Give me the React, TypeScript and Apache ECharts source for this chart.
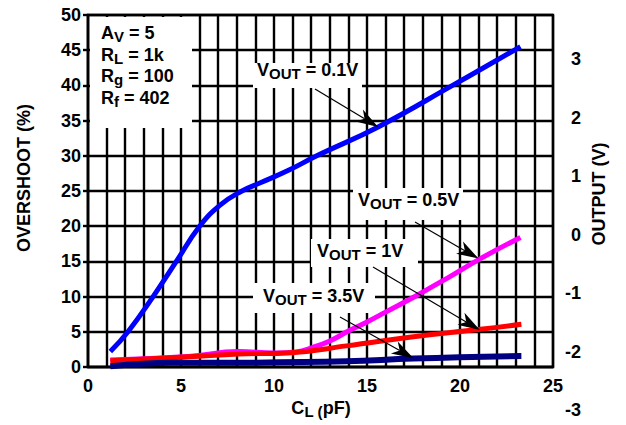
import React, { useEffect, useRef } from "react";
import * as echarts from "echarts";

// ---- data ----
const xMin = 0;
const xMax = 25;
const xInterval = 5;
const yMin = 0;
const yMax = 50;
const yInterval = 5;
const rightMin = -3;
const rightMax = 3;
const rightInterval = 1;

const vout01: [number, number][] = [
  [1.2, 2.2], [2.15, 5], [3.5, 10], [4.75, 15], [6.0, 20], [7.1, 23.0],
  [8.2, 24.9], [9.3, 26.2], [10.75, 27.9], [12.3, 30], [15.6, 34.1], [19.6, 40], [23.25, 45.5],
];
const vout05: [number, number][] = [
  [1.2, 1.0], [5.4, 1.5], [8.1, 2.2], [10.0, 2.0], [11.2, 2.15], [12.1, 2.8],
  [13.0, 3.7], [14.0, 5.1], [15.0, 6.4], [16.0, 7.8], [17.7, 10.2], [19.3, 12.6],
  [21.1, 15.4], [23.25, 18.4],
];
const vout1: [number, number][] = [
  [1.2, 0.9], [5.4, 1.45], [8.1, 1.85], [10.75, 2.0], [13.9, 3.0],
  [17.5, 4.3], [21.1, 5.35], [23.3, 6.06],
];
const vout35: [number, number][] = [
  [1.2, 0.1], [4.5, 0.6], [9.0, 0.62], [13.9, 0.8], [17.5, 1.2], [23.3, 1.56],
];

const seriesNames = ["0.1V", "0.5V", "1V", "3.5V"];
const seriesColors = ["#0000FF", "#FF00FF", "#FF0000", "#000080"];

const legendLines: [string, string, string][] = [
  ["A", "V", " = 5"],
  ["R", "L", " = 1k"],
  ["R", "g", " = 100"],
  ["R", "f", " = 402"],
];

// annotation labels: box (px), text position (px), arrow start (px), arrow tip (data)
const annotations = [
  { label: "0.1V", box: [253, 63, 109, 25], text: [257, 61], from: [315, 89], tip: [15.6, 34.1] },
  { label: "0.5V", box: [353, 188, 110, 32], text: [358, 191], from: [415, 222], tip: [21.0, 15.4] },
  { label: "1V", box: [311, 239, 107, 28], text: [317, 242], from: [373, 267], tip: [21.07, 5.26] },
  { label: "3.5V", box: [253, 283, 122, 30], text: [263, 287], from: [340, 317], tip: [17.5, 1.24] },
];

const FONT = "Liberation Sans, Arial, sans-serif";

export default function App() {
  const ref = useRef<HTMLDivElement>(null);

  useEffect(() => {
    if (!ref.current) return;
    const chart = echarts.init(ref.current, null, { renderer: "svg" });
    const gridLine = { color: "#000", width: 2.4 };
    const labelStyle = { color: "#000", fontSize: 18, fontWeight: "bold" as const, fontFamily: FONT };

    const seriesData = [vout01, vout05, vout1, vout35];

    chart.setOption({
      animation: false,
      backgroundColor: "#fff",
      grid: [
        { left: 88, right: 73, top: 15, bottom: 58, show: true, borderColor: "#000", borderWidth: 2.4, backgroundColor: "transparent" },
        { left: 88, right: 73, top: 59, bottom: 15, show: false },
      ],
      xAxis: [
        {
          type: "value", gridIndex: 0, min: xMin, max: xMax, interval: xInterval,
          axisLine: { show: true, lineStyle: gridLine },
          axisTick: { show: false },
          minorTick: { show: false, splitNumber: 5 },
          splitLine: { show: true, lineStyle: gridLine },
          minorSplitLine: { show: true, lineStyle: gridLine },
          axisLabel: { ...labelStyle, margin: 10 },
        },
        { type: "value", gridIndex: 1, show: false, min: 0, max: 1 },
      ],
      yAxis: [
        {
          type: "value", gridIndex: 0, min: yMin, max: yMax, interval: yInterval,
          axisLine: { show: true, lineStyle: gridLine },
          axisTick: { show: true, length: 5, lineStyle: gridLine },
          splitLine: { show: true, lineStyle: gridLine },
          axisLabel: { ...labelStyle, margin: 7 },
        },
        {
          type: "value", gridIndex: 1, position: "right", min: rightMin, max: rightMax, interval: rightInterval,
          axisLine: { show: false }, axisTick: { show: false }, splitLine: { show: false },
          axisLabel: { ...labelStyle, margin: 28, align: "right" },
        },
      ],
      series: seriesData.map((d, i) => ({
        name: seriesNames[i],
        type: "line",
        xAxisIndex: 0,
        yAxisIndex: 0,
        data: d,
        smooth: 0.45,
        showSymbol: false,
        symbol: "none",
        z: 3,
        lineStyle: { color: seriesColors[i], width: i === 3 ? 6 : 5, cap: "butt" },
        itemStyle: { color: seriesColors[i] },
      })),
    });

    const graphics: any[] = [];
    // parameters box
    graphics.push({ type: "rect", z: 1, shape: { x: 90, y: 17, width: 102, height: 111 }, style: { fill: "#fff" } });
    legendLines.forEach((l, i) => {
      graphics.push({
        type: "text", z: 5, x: 101, y: 24 + i * 21.7,
        style: {
          text: `{m|${l[0]}}{s|${l[1]}}{m|${l[2]}}`,
          textVerticalAlign: "top",
          rich: {
            m: { fontSize: 18, fontWeight: "bold", fontFamily: FONT, lineHeight: 20, verticalAlign: "top", fill: "#000" },
            s: { fontSize: 15, fontWeight: "bold", fontFamily: FONT, lineHeight: 14, verticalAlign: "bottom", fill: "#000" },
          },
        },
      });
    });

    annotations.forEach((a) => {
      const [bx, by, bw, bh] = a.box;
      graphics.push({ type: "rect", z: 1, shape: { x: bx, y: by, width: bw, height: bh }, style: { fill: "#fff" } });
      graphics.push({
        type: "text", z: 5, x: a.text[0], y: a.text[1],
        style: {
          text: `{m|V}{s|OUT}{m| = ${a.label}}`,
          textVerticalAlign: "top",
          rich: {
            m: { fontSize: 18, fontWeight: "bold", fontFamily: FONT, lineHeight: 20, verticalAlign: "top", fill: "#000" },
            s: { fontSize: 15, fontWeight: "bold", fontFamily: FONT, lineHeight: 13, verticalAlign: "bottom", fill: "#000" },
          },
        },
      });
      const tip = chart.convertToPixel({ xAxisIndex: 0, yAxisIndex: 0 }, a.tip) as number[];
      const [sx, sy] = a.from;
      const dx = tip[0] - sx;
      const dy = tip[1] - sy;
      const len = Math.sqrt(dx * dx + dy * dy);
      const ux = dx / len;
      const uy = dy / len;
      const L = 22;
      const W = 7;
      const bxp = tip[0] - ux * L;
      const byp = tip[1] - uy * L;
      const nx = tip[0] - ux * L * 0.72;
      const ny = tip[1] - uy * L * 0.72;
      graphics.push({
        type: "line", z: 5,
        shape: { x1: sx, y1: sy, x2: nx, y2: ny },
        style: { stroke: "#000", lineWidth: 1.2 },
      });
      graphics.push({
        type: "polygon", z: 5,
        shape: {
          points: [
            [tip[0], tip[1]],
            [bxp - uy * W, byp + ux * W],
            [nx, ny],
            [bxp + uy * W, byp - ux * W],
          ],
        },
        style: { fill: "#000" },
      });
    });

    // axis titles
    graphics.push({
      type: "text", z: 5, x: 24, y: 178, rotation: Math.PI / 2,
      style: { text: "OVERSHOOT (%)", textAlign: "center", textVerticalAlign: "middle", fontSize: 18, fontWeight: "bold", fontFamily: FONT, fill: "#000" },
    });
    graphics.push({
      type: "text", z: 5, x: 599, y: 194, rotation: Math.PI / 2,
      style: { text: "OUTPUT (V)", textAlign: "center", textVerticalAlign: "middle", fontSize: 18, fontWeight: "bold", fontFamily: FONT, fill: "#000" },
    });
    graphics.push({
      type: "text", z: 5, x: 321, y: 399,
      style: {
        text: "{m|C}{s|L (}{m|pF)}",
        textAlign: "center",
        textVerticalAlign: "top",
        rich: {
          m: { fontSize: 18, fontWeight: "bold", fontFamily: FONT, lineHeight: 20, verticalAlign: "top", fill: "#000" },
          s: { fontSize: 15, fontWeight: "bold", fontFamily: FONT, lineHeight: 13, verticalAlign: "bottom", fill: "#000" },
        },
      },
    });

    chart.setOption({ graphic: graphics });

    return () => chart.dispose();
  }, []);

  return <div ref={ref} style={{ width: 626, height: 425, position: "absolute", left: 0, top: 0 }} />;
}
